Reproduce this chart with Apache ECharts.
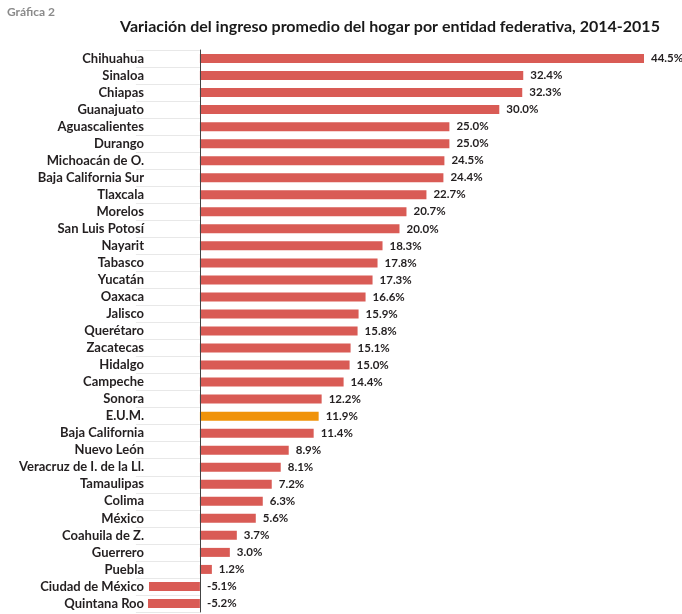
<!DOCTYPE html>
<html><head><meta charset="utf-8">
<script src="https://cdn.jsdelivr.net/npm/echarts@6/dist/echarts.min.js"></script>
<style>html,body{margin:0;padding:0;background:#fff}#c{width:682px;height:614px}</style>
</head><body><div id="c"></div>
<script>
const categories = ["Chihuahua","Sinaloa","Chiapas","Guanajuato","Aguascalientes","Durango","Michoacán de O.","Baja California Sur","Tlaxcala","Morelos","San Luis Potosí","Nayarit","Tabasco","Yucatán","Oaxaca","Jalisco","Querétaro","Zacatecas","Hidalgo","Campeche","Sonora","E.U.M.","Baja California","Nuevo León","Veracruz de I. de la Ll.","Tamaulipas","Colima","México","Coahuila de Z.","Guerrero","Puebla","Ciudad de México","Quintana Roo"];
const values = [44.5,32.4,32.3,30.0,25.0,25.0,24.5,24.4,22.7,20.7,20.0,18.3,17.8,17.3,16.6,15.9,15.8,15.1,15.0,14.4,12.2,11.9,11.4,8.9,8.1,7.2,6.3,5.6,3.7,3.0,1.2,-5.1,-5.2];
const highlight = "E.U.M.";
const FONT = 'Lato,"Liberation Sans",sans-serif';
const chart = echarts.init(document.getElementById('c'), null, {renderer:'canvas'});
chart.setOption({
  animation:false,
  title:[
    {text:'Gráfica 2',left:2,top:1,textStyle:{fontFamily:FONT,fontSize:12,fontWeight:'bold',color:'#8a8a8a'}},
    {text:'Variación del ingreso promedio del hogar por entidad federativa, 2014-2015',left:385,textAlign:'center',top:14,textStyle:{fontFamily:FONT,fontSize:16,fontWeight:'bold',color:'#1a1a1a'}}
  ],
  grid:{left:148,right:38,top:50,bottom:2,containLabel:false,outerBoundsMode:'none'},
  xAxis:{type:'value',min:-5.2,max:44.5,show:false},
  yAxis:[{type:'category',data:categories,inverse:true,
    axisLine:{show:true,lineStyle:{color:'#444',width:1}},
    axisTick:{show:true,length:64,lineStyle:{color:'#e8e8e8'}},
    axisLabel:{margin:4,fontFamily:FONT,fontSize:13,fontWeight:'bold',color:'#231f20'},
    splitLine:{show:false},z:3},
   {type:'category',data:categories,inverse:true,position:'left',offset:0,
    axisLine:{show:false},
    axisTick:{show:true,inside:true,length:10,lineStyle:{color:'#e8e8e8'}},
    axisLabel:{show:false},splitLine:{show:false},z:1}],
  series:[{type:'bar',barWidth:9,z:2,
    data:values.map((v,i)=>({value:v,itemStyle:{color:categories[i]===highlight?'#f0930a':'#d95b55'}})),
    label:{show:true,position:'right',distance:7,fontFamily:FONT,fontSize:11.5,fontWeight:'bold',color:'#231f20',
      formatter:p=>p.value.toFixed(1)+'%'}}]
});
</script></body></html>
